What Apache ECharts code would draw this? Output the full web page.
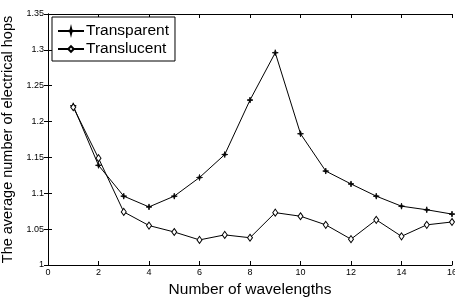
<!DOCTYPE html>
<html>
<head>
<meta charset="utf-8">
<script src="https://cdn.jsdelivr.net/npm/echarts@6/dist/echarts.min.js"></script>
<style>
  html, body { margin: 0; padding: 0; background: #fff; }
  #chart { width: 455px; height: 302px; }
</style>
</head>
<body>
<div id="chart"></div>
<script>
// wavelengths on x, average electrical hops on y
const wavelengths = [1, 2, 3, 4, 5, 6, 7, 8, 9, 10, 11, 12, 13, 14, 15, 16];
const transparent = [1.222, 1.139, 1.096, 1.081, 1.096, 1.122, 1.154, 1.230, 1.296, 1.183, 1.131, 1.113, 1.096, 1.082, 1.077, 1.071];
const translucent = [1.220, 1.149, 1.074, 1.055, 1.046, 1.035, 1.042, 1.038, 1.073, 1.068, 1.056, 1.036, 1.063, 1.040, 1.056, 1.060];
const seriesNames = ['Transparent', 'Translucent'];

const chart = echarts.init(document.getElementById('chart'));
const font = 'Liberation Sans, Arial, sans-serif';

function pairs(ys) {
    return wavelengths.map((x, i) => [x, ys[i]]);
}

// top / right box lines with inward ticks, like the matlab frame
const boxAxis = {
    axisLine: { show: true, lineStyle: { color: '#000', width: 1 } },
    axisTick: { show: true, inside: true, length: 4, lineStyle: { color: '#000' } },
    axisLabel: { show: false },
    splitLine: { show: false }
};

const starPath = 'path://M0,-10 L2,-2 L10,0 L2,2 L0,10 L-2,2 L-10,0 L-2,-2 Z';

chart.setOption({
    animation: false,
    backgroundColor: '#fff',
    textStyle: { fontFamily: font, color: '#000' },
    grid: { left: 48, right: 3, top: 14, bottom: 37, containLabel: false, outerBoundsMode: 'none' },
    legend: {
        orient: 'vertical',
        left: 52, top: 17,
        width: 122,
        padding: [5, 6, 3, 5],
        itemGap: 0,
        itemWidth: 26, itemHeight: 7,
        borderColor: '#000', borderWidth: 1,
        backgroundColor: '#fff',
        textStyle: { fontFamily: font, fontSize: 15.5, color: '#000', lineHeight: 18, padding: [0, 0, 0, -3] },
        data: seriesNames
    },
    xAxis: [{
        type: 'value', min: 0, max: 16, interval: 2,
        name: 'Number of wavelengths', nameLocation: 'middle', nameGap: 16,
        nameTextStyle: { fontFamily: font, fontSize: 15.5, color: '#000' },
        axisLine: { show: true, onZero: false, lineStyle: { color: '#000', width: 1 } },
        axisTick: { show: true, inside: true, length: 4, lineStyle: { color: '#000' } },
        axisLabel: { fontFamily: font, fontSize: 9, color: '#000', margin: 3 },
        splitLine: { show: false }
    }, Object.assign({ type: 'value', position: 'top', min: 0, max: 16, interval: 2 }, boxAxis)],
    yAxis: [{
        type: 'value', min: 1, max: 1.35, interval: 0.05,
        name: 'The average number of electrical hops', nameLocation: 'middle', nameGap: 24,
        nameTextStyle: { fontFamily: font, fontSize: 14.5, color: '#000' },
        axisLine: { show: true, onZero: false, lineStyle: { color: '#000', width: 1 } },
        axisTick: { show: true, inside: true, length: 4, lineStyle: { color: '#000' } },
        axisLabel: {
            fontFamily: font, fontSize: 9, color: '#000', margin: 4,
            formatter: v => String(parseFloat(v.toFixed(2)))
        },
        splitLine: { show: false }
    }, Object.assign({ type: 'value', position: 'right', min: 1, max: 1.35, interval: 0.05 }, boxAxis)],
    series: [{
        name: seriesNames[0],
        type: 'line',
        data: pairs(transparent),
        symbol: starPath,
        symbolSize: 6,
        showAllSymbol: true,
        lineStyle: { color: '#000', width: 1 },
        itemStyle: { color: '#000', borderColor: '#000', borderWidth: 0.8 }
    }, {
        name: seriesNames[1],
        type: 'line',
        data: pairs(translucent),
        symbol: 'diamond',
        symbolSize: [5, 7],
        showAllSymbol: true,
        lineStyle: { color: '#000', width: 1 },
        itemStyle: { color: '#fff', borderColor: '#000', borderWidth: 1 }
    }]
});
</script>
</body>
</html>
